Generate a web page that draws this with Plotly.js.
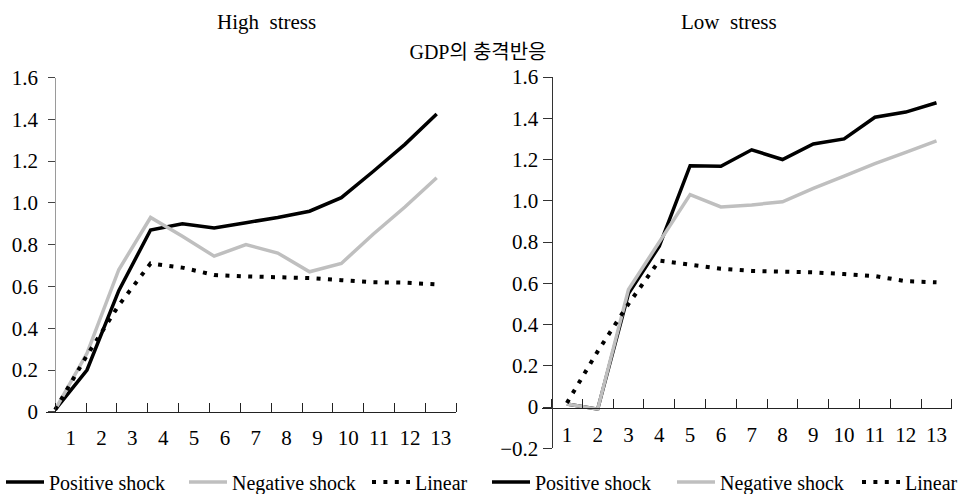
<!DOCTYPE html>
<html>
<head>
<meta charset="utf-8">
<script src="https://cdn.plot.ly/plotly-3.0.1.min.js"></script>
<style>
html, body { margin: 0; padding: 0; background: #fff; }
#chart { width: 960px; height: 494px; }
</style>
</head>
<body>
<div id="chart"></div>
<script>
// ---- data ----
const periods = [1, 2, 3, 4, 5, 6, 7, 8, 9, 10, 11, 12, 13];
const periodLabels = ['1', '2', '3', '4', '5', '6', '7', '8', '9', '10', '11', '12', '13'];

const highPositive = [0.01, 0.20, 0.58, 0.87, 0.90, 0.88, 0.905, 0.93, 0.96, 1.025, 1.15, 1.28, 1.425];
const highNegative = [0.01, 0.28, 0.68, 0.93, 0.84, 0.745, 0.80, 0.76, 0.67, 0.71, 0.85, 0.98, 1.12];
const highLinear   = [0.01, 0.27, 0.51, 0.71, 0.69, 0.655, 0.648, 0.645, 0.64, 0.63, 0.62, 0.618, 0.61];

const lowPositive = [0.015, -0.01, 0.55, 0.78, 1.17, 1.167, 1.247, 1.20, 1.275, 1.30, 1.405, 1.43, 1.475];
const lowNegative = [0.015, -0.01, 0.57, 0.80, 1.03, 0.97, 0.98, 0.995, 1.06, 1.12, 1.18, 1.235, 1.29];
const lowLinear   = [0.02, 0.27, 0.50, 0.71, 0.69, 0.67, 0.66, 0.657, 0.653, 0.645, 0.635, 0.61, 0.605];

const highTickVals = [0, 0.2, 0.4, 0.6, 0.8, 1.0, 1.2, 1.4, 1.6];
const highTickText = ['0', '0.2', '0.4', '0.6', '0.8', '1.0', '1.2', '1.4', '1.6'];
const lowTickVals = [-0.2, 0, 0.2, 0.4, 0.6, 0.8, 1.0, 1.2, 1.4, 1.6];
const lowTickText = ['\u22120.2', '0', '0.2', '0.4', '0.6', '0.8', '1.0', '1.2', '1.4', '1.6'];

const seriesNames = ['Positive shock', 'Negative shock', 'Linear'];
const panelTitles = ['High\u00a0 stress', 'Low\u00a0 stress'];
const mainTitle = 'GDP의 충격반응';

// ---- layout helpers ----
const W = 960, H = 494;
const px = v => v / W;
const py = v => 1 - v / H;
const FONT = '"Liberation Serif", "Noto Sans CJK KR", serif';

const styles = [
  { color: '#000000', width: 3.5, dash: 'solid' },
  { color: '#bfbfbf', width: 3.5, dash: 'solid' },
  { color: '#000000', width: 4, dash: '4px,7.4px' }
];

function trace(y, i, xa, ya, leg) {
  return {
    x: periods, y: y, type: 'scatter', mode: 'lines',
    name: seriesNames[i], xaxis: xa, yaxis: ya, legend: leg,
    line: { color: styles[i].color, width: styles[i].width, dash: styles[i].dash },
    hoverinfo: 'skip'
  };
}

const data = [
  trace(highPositive, 0, 'x', 'y', 'legend'),
  trace(highNegative, 1, 'x', 'y', 'legend'),
  trace(highLinear, 2, 'x', 'y', 'legend'),
  trace(lowPositive, 0, 'x2', 'y2', 'legend2'),
  trace(lowNegative, 1, 'x2', 'y2', 'legend2'),
  trace(lowLinear, 2, 'x2', 'y2', 'legend2')
];

const tickFont = { family: FONT, size: 21, color: '#000' };

// left panel geometry: points start on the y axis, spaced a little wider than the category slots
const L = { x0: 46, yAxis: 55.2, x1: 456.3, cat: 30.85, top: 77.5, bottom: 411.8, p13: 436.7 };
const Lstep = (L.p13 - L.yAxis) / 12;                 // px per period for the plotted points
const LdataRange = [1 - (L.yAxis - L.x0) / Lstep, 1 + (L.x1 - L.yAxis) / Lstep];
const Lslot = L.cat / Lstep;                          // category slot width in axis units
const LlabelVals = periods.map(k => 1 + (k - 0.5) * Lslot);

// right panel geometry: points at category centres
const R = { x0: 541.5, yAxis: 551.5, x1: 952.3, cat: 30.8, top: 77, bottom: 448.3, zero: 408.3 };
const Rrange = [0.5 - (R.yAxis - R.x0) / R.cat, 0.5 + (R.x1 - R.yAxis) / R.cat];

function xAxisCommon(range, domain, tickvals, tick0, dtick) {
  return {
    domain: domain, range: range, type: 'linear',
    showline: true, linecolor: '#222', linewidth: 1,
    showgrid: false, zeroline: false,
    tickmode: 'array', tickvals: tickvals, ticktext: periodLabels,
    ticks: 'outside', ticklen: 0, tickfont: tickFont,
    ticklabelstandoff: 7,
    minor: { ticks: 'inside', tickmode: 'linear', tick0: tick0, dtick: dtick, ticklen: 9, tickcolor: '#222', tickwidth: 1, showgrid: false },
    fixedrange: true
  };
}

const legendCommon = {
  orientation: 'h', xanchor: 'left', yanchor: 'middle',
  font: { family: FONT, size: 20, color: '#000' }, bgcolor: 'rgba(0,0,0,0)',
  entrywidthmode: 'pixels', itemwidth: 38, tracegroupgap: 0
};

const layout = {
  width: W, height: H,
  margin: { l: 0, r: 0, t: 0, b: 0, autoexpand: false },
  paper_bgcolor: '#fff', plot_bgcolor: 'rgba(0,0,0,0)',
  showlegend: true,
  title: { text: mainTitle, x: px(478), xanchor: 'center', xref: 'container', y: py(51.7), yanchor: 'middle', yref: 'container', font: { family: FONT, size: 20, color: '#000' } },
  xaxis: Object.assign(xAxisCommon(LdataRange, [px(L.x0), px(L.x1)], LlabelVals, 1, Lslot), { anchor: 'y' }),
  yaxis: {
    domain: [py(L.bottom), py(L.top)], range: [0, 1.6], anchor: 'free', position: px(L.yAxis),
    showline: true, linecolor: '#9a9a9a', linewidth: 1, showgrid: false, zeroline: false,
    tickmode: 'array', tickvals: highTickVals, ticktext: highTickText,
    ticks: 'outside', ticklen: 7, tickcolor: '#444', tickfont: tickFont, ticklabelstandoff: 6, fixedrange: true
  },
  xaxis2: Object.assign(xAxisCommon(Rrange, [px(R.x0), px(R.x1)], periods, 0.5, 1), { anchor: 'free', position: py(R.zero) }),
  yaxis2: {
    domain: [py(R.bottom), py(R.top)], range: [-0.2, 1.6], anchor: 'free', position: px(R.yAxis),
    showline: true, linecolor: '#333', linewidth: 1, showgrid: false, zeroline: false,
    tickmode: 'array', tickvals: lowTickVals, ticktext: lowTickText,
    ticks: 'outside', ticklen: 9, tickcolor: '#333', tickfont: tickFont, ticklabelstandoff: 0, fixedrange: true
  },
  legend: Object.assign({}, legendCommon, { x: px(1), y: py(482), entrywidth: 130 }),
  legend2: Object.assign({}, legendCommon, { x: px(487), y: py(482), entrywidth: 132 }),
  annotations: [
    { text: panelTitles[0], xref: 'paper', yref: 'paper', x: px(266.7), y: py(21.7), xanchor: 'center', yanchor: 'middle', showarrow: false, font: { family: FONT, size: 21, color: '#000' } },
    { text: panelTitles[1], xref: 'paper', yref: 'paper', x: px(729), y: py(21.7), xanchor: 'center', yanchor: 'middle', showarrow: false, font: { family: FONT, size: 21, color: '#000' } }
  ]
};

Plotly.newPlot('chart', data, layout, { displayModeBar: false, staticPlot: true });
</script>
</body>
</html>
